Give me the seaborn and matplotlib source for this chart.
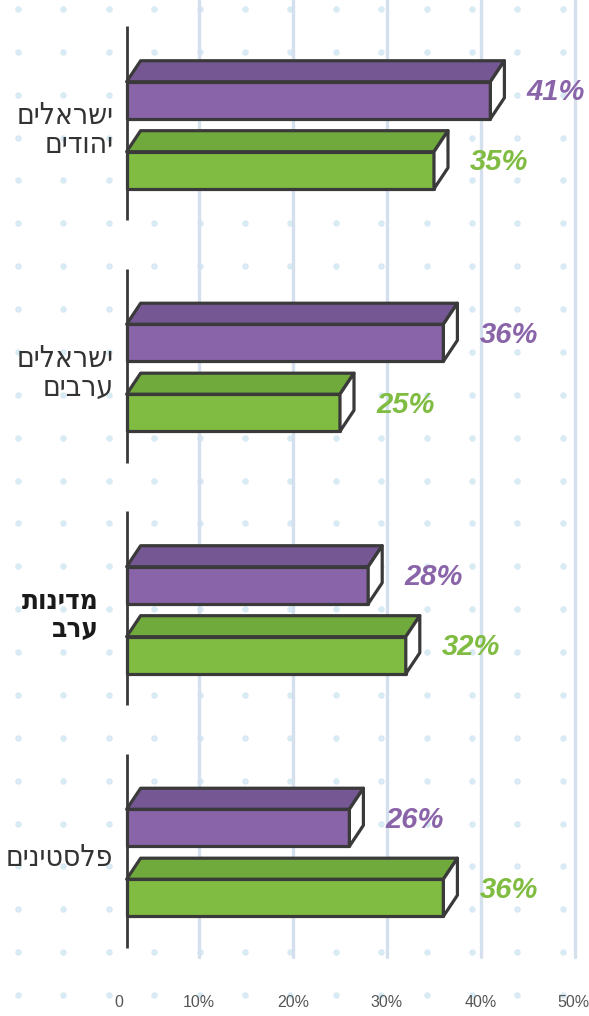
import numpy as np
import pandas as pd
import matplotlib
matplotlib.use("Agg")
import matplotlib.pyplot as plt
from matplotlib.patches import Polygon
from matplotlib.transforms import ScaledTranslation
import seaborn as sns

# ---------------- data ----------------
categories = ["ישראלים\nיהודים", "ישראלים\nערבים", "מדינות\nערב", "פלסטינים"]
series_names = ["סדרה 1", "סדרה 2"]
purple_values = [41, 36, 28, 26]
green_values = [35, 25, 32, 36]
x_ticks = [0, 10, 20, 30, 40, 50]
x_tick_labels = ["0", "10%", "20%", "30%", "40%", "50%"]
bold_category = "מדינות\nערב"

# ---------------- style ----------------
PURPLE = "#8a64a9"
PURPLE_TOP = "#745793"
GREEN = "#80bc41"
GREEN_TOP = "#71aa3c"
EDGE = "#3a3a3a"
GRID = "#d5e0ef"
DOT = "#d8eaf4"
BAR_START = 2.3
NARROW = ["Liberation Sans Narrow", "Liberation Sans", "DejaVu Sans"]
HEBREW = ["DejaVu Sans"]

def visual(s):
    # matplotlib lays text left-to-right: give Hebrew lines in visual order
    return "\n".join(line[::-1] for line in s.split("\n"))

df = pd.DataFrame({
    "category": categories * 2,
    "series": [series_names[0]] * 4 + [series_names[1]] * 4,
    "value": purple_values + green_values,
})

sns.set_theme(style="white")
plt.rcParams["font.family"] = NARROW

W, H, DPI = 589, 1016, 100
fig = plt.figure(figsize=(W / DPI, H / DPI), dpi=DPI)
fig.patch.set_facecolor("white")

# background dotted pattern
bg = fig.add_axes([0, 0, 1, 1], zorder=0)
bg.set_xlim(0, W)
bg.set_ylim(H, 0)
bg.axis("off")
gx, gy = np.meshgrid(18 + 45.4 * np.arange(13), 9 + 42.87 * np.arange(24))
bg.scatter(gx.ravel(), gy.ravel(), s=22, color=DOT, linewidths=0)

ax_left, ax_right, ax_top, ax_bot = 105, 575, 14, 984
ax = fig.add_axes([ax_left / W, 1 - ax_bot / H, (ax_right - ax_left) / W, (ax_bot - ax_top) / H], zorder=1)
ax.patch.set_alpha(0)

sns.barplot(data=df, y="category", x="value", hue="series", orient="h",
            palette=[PURPLE, GREEN], saturation=1, width=0.577, gap=0.47, legend=False,
            edgecolor=EDGE, linewidth=2.3, ax=ax, zorder=3)
ax.set_xlim(0, 50)
ax.set_ylim(3.5, -0.5)

# gridlines
for t in x_ticks[1:]:
    ax.axvline(t, ymin=(ax_bot - 957) / (ax_bot - ax_top), ymax=(ax_bot - 0) / (ax_bot - ax_top),
               color=GRID, lw=2.4, clip_on=False, zorder=1)

px_x = (ax_right - ax_left) / 50.0
px_y = (ax_bot - ax_top) / 4.0
dx = 14 / px_x
dy = 21 / px_y

bars = list(ax.patches)
n_cat = len(categories)
for i, p in enumerate(bars):
    is_purple = i < n_cat
    top_col = PURPLE_TOP if is_purple else GREEN_TOP
    color = PURPLE if is_purple else GREEN
    x1 = p.get_x() + p.get_width()
    p.set_x(BAR_START)
    p.set_width(x1 - BAR_START)
    p.set_clip_on(False)
    p.set_joinstyle("round")
    y0 = p.get_y()
    h = p.get_height()
    top = Polygon([(BAR_START, y0), (BAR_START + dx, y0 - dy), (x1 + dx, y0 - dy), (x1, y0)],
                  closed=True, facecolor=top_col, edgecolor=EDGE, lw=2.3, zorder=3,
                  joinstyle="round", clip_on=False)
    side = Polygon([(x1, y0), (x1 + dx, y0 - dy), (x1 + dx, y0 + h - dy), (x1, y0 + h)],
                   closed=True, facecolor="white", edgecolor=EDGE, lw=2.3, zorder=3,
                   joinstyle="round", clip_on=False)
    ax.add_patch(top)
    ax.add_patch(side)
    ax.text(x1 + dx + 22 / px_x, y0 + h / 2 - 8 / px_y, f"{x1:g}%", color=color,
            fontsize=21, fontweight="bold", fontstyle="italic", family=NARROW,
            ha="left", va="center", zorder=4, clip_on=False)

# axis line segments per group
for yc in ax.get_yticks():
    ax.vlines(BAR_START, yc - 0.45, yc + 0.35, color=EDGE, lw=2.0, zorder=4, clip_on=False)

for s in ax.spines.values():
    s.set_visible(False)
ax.set_xlabel("")
ax.set_ylabel("")
ax.set_xticks(x_ticks)
ax.set_xticklabels(x_tick_labels, fontsize=11.5, color="#555555")
ax.tick_params(axis="x", length=0, pad=8)
xl = ax.get_xticklabels()
xl[0].set_transform(xl[0].get_transform() + ScaledTranslation(14 / DPI, 0, fig.dpi_scale_trans))
xl[-1].set_transform(xl[-1].get_transform() + ScaledTranslation(-2 / DPI, 0, fig.dpi_scale_trans))

ax.set_yticks(range(len(categories)))
ax.set_yticklabels([visual(c) for c in categories], fontsize=21.5, color="#333333",
                   family=HEBREW, fontstretch="condensed",
                   ha="right", multialignment="right", linespacing=1.0)
ax.tick_params(axis="y", length=0, pad=-6)
for lbl, c in zip(ax.get_yticklabels(), categories):
    shift_x = 0
    if c == bold_category:
        lbl.set_fontweight("bold")
        lbl.set_fontsize(20)
        lbl.set_color("#1a1a1a")
        shift_x = -15
    lbl.set_transform(lbl.get_transform() + ScaledTranslation(shift_x / DPI, 8 / DPI, fig.dpi_scale_trans))

fig.savefig("out.png", dpi=DPI, facecolor="white")
